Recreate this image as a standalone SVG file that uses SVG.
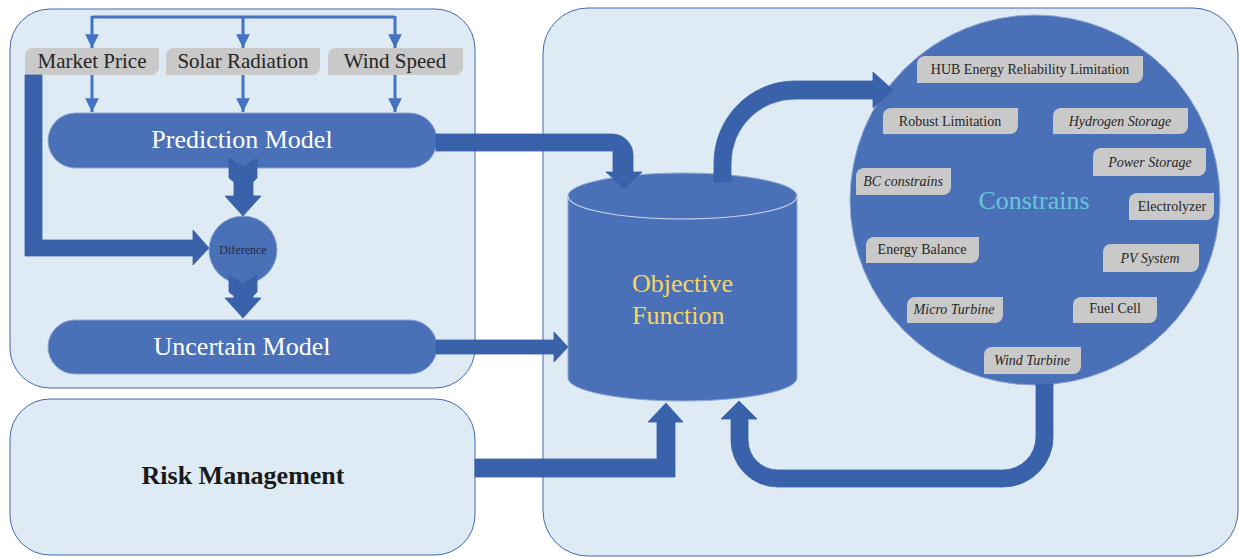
<svg xmlns="http://www.w3.org/2000/svg" width="1239" height="558" viewBox="0 0 1239 558">
  <defs>
    <style>
      .panel { fill: #deebf5; stroke: #4368ae; stroke-width: 1; }
      .node { fill: #4a71b8; stroke: #8fa6d3; stroke-width: 1; }
      .tag { fill: #c9c9c9; }
      .tagtext { font-family: "Liberation Serif", serif; font-size: 14px; fill: #262626; text-anchor: middle; }
      .it { font-style: italic; }
      .intext { font-family: "Liberation Serif", serif; font-size: 21px; fill: #262626; text-anchor: middle; }
      .big { font-family: "Liberation Serif", serif; font-size: 26px; fill: #ffffff; text-anchor: middle; }
      .thin { fill: none; stroke: #4472c4; stroke-width: 3; }
      .thick { fill: #3a62ab; stroke: #3560a8; stroke-width: 0.8; }
    </style>
    <marker id="tip" viewBox="0 0 10 10" refX="10" refY="5" markerWidth="4.6" markerHeight="4.6" markerUnits="strokeWidth" orient="auto">
      <path d="M0,0 L10,5 L0,10 Z" fill="#4472c4"/>
    </marker>
  </defs>

  <!-- background panels -->
  <g id="panel-forecast">
    <rect class="panel" x="10" y="9" width="465" height="379" rx="40" ry="40"/>
  </g>
  <g id="panel-optimization">
    <rect class="panel" x="543" y="8" width="695" height="548" rx="45" ry="45"/>
  </g>

  <!-- input data tags -->
  <g id="market-price">
    <path class="tag" d="M33,48 H159 V67 A8,8 0 0 1 151,75 H25 V56 A8,8 0 0 1 33,48 Z"/>
    <text class="intext" x="92" y="68">Market Price</text>
  </g>
  <g id="solar-radiation">
    <path class="tag" d="M174,48 H320 V67 A8,8 0 0 1 312,75 H166 V56 A8,8 0 0 1 174,48 Z"/>
    <text class="intext" x="243" y="68">Solar Radiation</text>
  </g>
  <g id="wind-speed">
    <path class="tag" d="M336,48 H463 V67 A8,8 0 0 1 455,75 H328 V56 A8,8 0 0 1 336,48 Z"/>
    <text class="intext" x="395" y="68">Wind Speed</text>
  </g>

  <g id="prediction-model">
    <rect class="node" x="48" y="113" width="389" height="55" rx="27.5" ry="27.5"/>
    <text class="big" x="242" y="148">Prediction Model</text>
  </g>
  <g id="difference">
    <circle class="node" cx="243" cy="250" r="34"/>
    <text x="243" y="254" font-family="Liberation Serif, serif" font-size="12" fill="#1f2a40" text-anchor="middle">Diference</text>
  </g>
  <g id="uncertain-model">
    <rect class="node" x="48" y="320" width="389" height="54" rx="27" ry="27"/>
    <text class="big" x="242" y="355">Uncertain Model</text>
  </g>

  <g id="risk-management">
    <rect class="panel" x="10" y="399" width="465" height="156" rx="40" ry="40"/>
    <text x="243" y="484" font-family="Liberation Serif, serif" font-size="26" font-weight="bold" fill="#1a1a1a" text-anchor="middle">Risk Management</text>
  </g>

  <g id="objective-function">
    <path class="node" d="M568,196 A114.5,23 0 0 1 797,196 V378 A114.5,23 0 0 1 568,378 Z"/>
    <path d="M568,196 A114.5,23 0 0 0 797,196" fill="none" stroke="#c5d3ee" stroke-width="1.2"/>
    <text x="632" y="292" font-family="Liberation Serif, serif" font-size="26" fill="#f9d65f">Objective</text>
    <text x="632" y="324" font-family="Liberation Serif, serif" font-size="26" fill="#f9d65f">Function</text>
  </g>

  <g id="constrains">
    <circle class="node" cx="1035" cy="200" r="185"/>
    <text x="1034" y="209" font-family="Liberation Serif, serif" font-size="26" fill="#66c6dd" text-anchor="middle">Constrains</text>
  </g>

  <!-- constraint tags -->
  <g id="hub-reliability">
    <path class="tag" d="M925,56 H1143 V75 A8,8 0 0 1 1135,83 H917 V64 A8,8 0 0 1 925,56 Z"/>
    <text class="tagtext" x="1030" y="74">HUB Energy Reliability Limitation</text>
  </g>
  <g id="robust-limitation">
    <path class="tag" d="M891,108 H1018 V126 A8,8 0 0 1 1010,134 H883 V116 A8,8 0 0 1 891,108 Z"/>
    <text class="tagtext" x="950" y="126">Robust Limitation</text>
  </g>
  <g id="hydrogen-storage">
    <path class="tag" d="M1061,108 H1188 V126 A8,8 0 0 1 1180,134 H1053 V116 A8,8 0 0 1 1061,108 Z"/>
    <text class="tagtext it" x="1120" y="126">Hydrogen Storage</text>
  </g>
  <g id="power-storage">
    <path class="tag" d="M1101,148 H1206 V168 A8,8 0 0 1 1198,176 H1093 V156 A8,8 0 0 1 1101,148 Z"/>
    <text class="tagtext it" x="1150" y="167">Power Storage</text>
  </g>
  <g id="bc-constrains">
    <path class="tag" d="M864,168 H951 V187 A8,8 0 0 1 943,195 H856 V176 A8,8 0 0 1 864,168 Z"/>
    <text class="tagtext it" x="903" y="186">BC constrains</text>
  </g>
  <g id="electrolyzer">
    <path class="tag" d="M1137,193 H1214 V212 A8,8 0 0 1 1206,220 H1129 V201 A8,8 0 0 1 1137,193 Z"/>
    <text class="tagtext" x="1172" y="211">Electrolyzer</text>
  </g>
  <g id="energy-balance">
    <path class="tag" d="M874,237 H979 V255 A8,8 0 0 1 971,263 H866 V245 A8,8 0 0 1 874,237 Z"/>
    <text class="tagtext" x="922" y="254">Energy Balance</text>
  </g>
  <g id="pv-system">
    <path class="tag" d="M1111,244 H1199 V264 A8,8 0 0 1 1191,272 H1103 V252 A8,8 0 0 1 1111,244 Z"/>
    <text class="tagtext it" x="1150" y="263">PV System</text>
  </g>
  <g id="micro-turbine">
    <path class="tag" d="M915,297 H1003 V315 A8,8 0 0 1 995,323 H907 V305 A8,8 0 0 1 915,297 Z"/>
    <text class="tagtext it" x="954" y="314">Micro Turbine</text>
  </g>
  <g id="fuel-cell">
    <path class="tag" d="M1081,297 H1157 V315 A8,8 0 0 1 1149,323 H1073 V305 A8,8 0 0 1 1081,297 Z"/>
    <text class="tagtext" x="1115" y="313">Fuel Cell</text>
  </g>
  <g id="wind-turbine">
    <path class="tag" d="M992,347 H1081 V366 A8,8 0 0 1 1073,374 H984 V355 A8,8 0 0 1 992,347 Z"/>
    <text class="tagtext it" x="1032" y="365">Wind Turbine</text>
  </g>

  <!-- connectors -->
  <g id="connectors">
    <!-- data feed lines -->
    <path class="thin" d="M92,17 H395"/>
    <path class="thin" d="M92,16 V48" marker-end="url(#tip)"/>
    <path class="thin" d="M243,16 V48" marker-end="url(#tip)"/>
    <path class="thin" d="M395,16 V48" marker-end="url(#tip)"/>
    <path class="thin" d="M92,75 V112" marker-end="url(#tip)"/>
    <path class="thin" d="M243,75 V112" marker-end="url(#tip)"/>
    <path class="thin" d="M395,75 V112" marker-end="url(#tip)"/>

    <!-- prediction to difference -->
    <path class="thick" d="M229,158 L243,167 L257,158 V178 L253,182 V196 H261 L243,216 L225,196 H234 V182 L229,178 Z"/>
    <!-- difference to uncertain model -->
    <path class="thick" d="M229,275 L243,284 L257,275 V292 L253,296 V298 H261 L243,318 L225,298 H234 V296 L229,292 Z"/>
    <!-- market price to difference -->
    <path class="thick" d="M25,75 H42 V240 H193 V230 L209,248 L193,265 V256 H25 Z"/>
    <!-- prediction to objective -->
    <path class="thick" d="M436,134 H612 A21,21 0 0 1 633,155 V172 H642 L624,188 L606,172 H613 V151 H436 Z"/>
    <!-- uncertain to objective -->
    <path class="thick" d="M436,340 H554 V332 L568,347 L554,362 V354 H436 Z"/>
    <!-- objective to constrains -->
    <path class="thick" d="M714,182 V163 A81,82 0 0 1 795,81 H873 V72 L893,90 L873,108 V99 H795 A64,64 0 0 0 731,163 V182 Z"/>
    <!-- risk management to objective -->
    <path class="thick" d="M475,459 H657 V422 H648 L666,403 L683,422 H675 V477 H475 Z"/>
    <!-- constrains back to objective -->
    <path class="thick" d="M1036,384 V437 A33,33 0 0 1 1003,470 H778 A30,30 0 0 1 748,440 V419 H757 L739,401 L721,419 H731 V440 A47,47 0 0 0 778,487 H1003 A50,50 0 0 0 1053,437 V384 Z"/>
  </g>
</svg>
